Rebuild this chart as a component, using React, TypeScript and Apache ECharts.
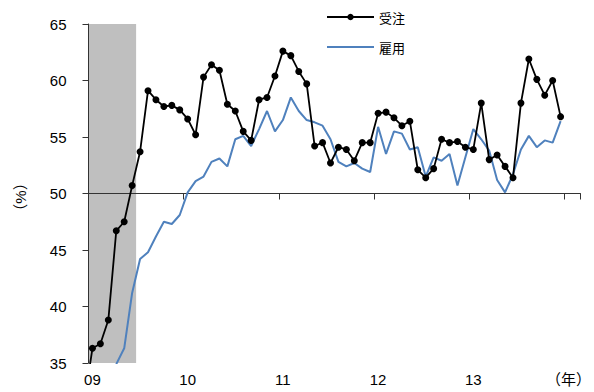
import React, { useEffect, useRef } from 'react';
import * as echarts from 'echarts';

// Months Dec 2008 .. Feb 2014 (index 0 lies just left of the plot and is clipped)
const months: string[] = (() => {
  const out: string[] = ['2008-12'];
  for (let y = 2009; y <= 2014; y++) {
    for (let m = 1; m <= 12; m++) {
      if (y === 2014 && m > 2) break;
      out.push(`${y}-${String(m).padStart(2, '0')}`);
    }
  }
  return out;
})();

// 受注 (orders), Dec 2008 .. Dec 2013
const orders: (number | null)[] = [
  31.7,
  36.3, 36.7, 38.8, 46.7, 47.5, 50.7, 53.7, 59.1, 58.3, 57.7, 57.8, 57.4,
  56.6, 55.2, 60.3, 61.4, 60.9, 57.9, 57.3, 55.5, 54.7, 58.3, 58.5, 60.4,
  62.6, 62.2, 60.8, 59.7, 54.2, 54.5, 52.7, 54.1, 53.9, 52.9, 54.5, 54.5,
  57.1, 57.2, 56.7, 56.0, 56.4, 52.1, 51.4, 52.2, 54.8, 54.5, 54.6, 54.1,
  53.9, 58.0, 53.0, 53.4, 52.4, 51.4, 58.0, 61.9, 60.1, 58.7, 60.0, 56.8,
];

// 雇用 (employment), Dec 2008 .. Dec 2013
const employment: (number | null)[] = [
  null,
  null, null, null, 34.9, 36.3, 41.2, 44.2, 44.8, 46.2, 47.5, 47.3, 48.1,
  50.1, 51.1, 51.5, 52.8, 53.1, 52.4, 54.8, 55.1, 54.2, 55.7, 57.3, 55.5,
  56.5, 58.5, 57.3, 56.5, 56.3, 56.0, 54.8, 52.8, 52.4, 52.7, 52.2, 51.9,
  55.9, 53.5, 55.5, 55.3, 53.9, 54.1, 51.5, 53.2, 52.9, 53.5, 50.7, 53.2,
  55.7, 54.8, 53.8, 51.2, 50.1, 51.7, 53.9, 55.1, 54.1, 54.7, 54.5, 56.4,
];

// shaded recession period (first and last month)
const recessionStart = '2009-01';
const recessionEnd = '2009-06';

const yearLabels = ['09', '10', '11', '12', '13', '（年）'];
const yMin = 35;
const yMax = 65;
const yStep = 5;
const xAxisCross = 50;

const FONT = '"Liberation Sans", Arial, "Noto Sans CJK JP", sans-serif';
const AXIS_COLOR = '#333';

export default function App() {
  const ref = useRef<HTMLDivElement>(null);
  useEffect(() => {
    if (!ref.current) return;
    const chart = echarts.init(ref.current, null, { renderer: 'svg' });
    const isJan = (idx: number) => months[idx] !== undefined && months[idx].endsWith('-01');
    const yearLabel = (v: string) => {
      const y = parseInt(v.slice(0, 4), 10);
      return yearLabels[y - 2009] ?? '';
    };
    const gridTop = 24;
    const gridHeight = 339;
    const crossOffset = -gridHeight * (xAxisCross - yMin) / (yMax - yMin);
    const baseX = {
      type: 'category' as const,
      data: months,
      min: 1,
      max: months.length - 1,
      boundaryGap: true,
    };
    chart.setOption({
      animation: false,
      textStyle: { fontFamily: FONT },
      grid: { left: 88.5, top: gridTop, width: 496, height: gridHeight, containLabel: false },
      legend: {
        orient: 'vertical',
        left: 326,
        top: 10.5,
        padding: 0,
        itemWidth: 47,
        itemHeight: 8,
        itemGap: 17,
        data: [
          { name: '受注' },
          { name: '雇用', icon: 'path://M0,0 L47,0 L47,1.8 L0,1.8 Z' },
        ],
        textStyle: { fontSize: 13, color: '#000', fontFamily: '"Noto Sans CJK JP", sans-serif' },
      },
      xAxis: [
        {
          ...baseX,
          position: 'bottom',
          axisLine: { show: false, onZero: false },
          axisTick: { show: false },
          axisLabel: {
            interval: (idx: number) => isJan(idx),
            formatter: (v: string) => yearLabel(v),
            fontSize: 15,
            color: '#000',
            margin: 9,
          },
          splitLine: { show: false },
        },
        {
          ...baseX,
          position: 'bottom',
          offset: crossOffset,
          z: 2,
          axisLine: { show: true, onZero: false, lineStyle: { color: AXIS_COLOR, width: 1 } },
          axisTick: { show: true, interval: (idx: number) => isJan(idx), length: 6, lineStyle: { color: AXIS_COLOR } },
          axisLabel: { show: false },
          splitLine: { show: false },
        },
      ],
      yAxis: {
        type: 'value',
        min: yMin,
        max: yMax,
        interval: yStep,
        z: 2,
        axisLine: { show: true, lineStyle: { color: AXIS_COLOR, width: 1 } },
        axisTick: { show: true, length: 6, lineStyle: { color: AXIS_COLOR } },
        axisLabel: { fontSize: 15, color: '#000', margin: 22 },
        splitLine: { show: false },
      },
      graphic: [
        {
          type: 'text',
          x: 20,
          y: 197,
          rotation: Math.PI / 2,
          style: {
            text: '（%）',
            x: 0,
            y: 0,
            align: 'center',
            verticalAlign: 'middle',
            fontSize: 15,
            fill: '#000',
            fontFamily: FONT,
          },
        },
      ],
      series: [
        {
          name: 'shade',
          type: 'custom',
          xAxisIndex: 0,
          z: 1,
          silent: true,
          data: [[months.indexOf(recessionStart), months.indexOf(recessionEnd)]],
          encode: { x: [0, 1] },
          renderItem: (params: any, api: any) => {
            const cs = params.coordSys;
            const s = api.coord([api.value(0), yMax]);
            const e = api.coord([api.value(1), yMax]);
            const bw = api.size([1, 0])[0];
            return {
              type: 'rect',
              shape: { x: s[0] - bw / 2, y: cs.y, width: e[0] - s[0] + bw, height: cs.height },
              style: { fill: '#BFBFBF' },
            };
          },
        },
        {
          name: '雇用',
          type: 'line',
          xAxisIndex: 0,
          z: 3,
          data: employment,
          showSymbol: false,
          symbol: 'none',
          lineStyle: { color: '#4F81BD', width: 2 },
          itemStyle: { color: '#4F81BD' },
          clip: true,
        },
        {
          name: '受注',
          type: 'line',
          xAxisIndex: 0,
          z: 4,
          data: orders,
          symbol: 'circle',
          symbolSize: 7,
          showSymbol: true,
          showAllSymbol: true,
          lineStyle: { color: '#000', width: 1.8 },
          itemStyle: { color: '#000' },
          clip: true,
        },
      ],
    });
    return () => chart.dispose();
  }, []);
  return (
    <div
      ref={ref}
      style={{ position: 'fixed', left: 0, top: 0, width: 594, height: 392, background: '#fff' }}
    />
  );
}
